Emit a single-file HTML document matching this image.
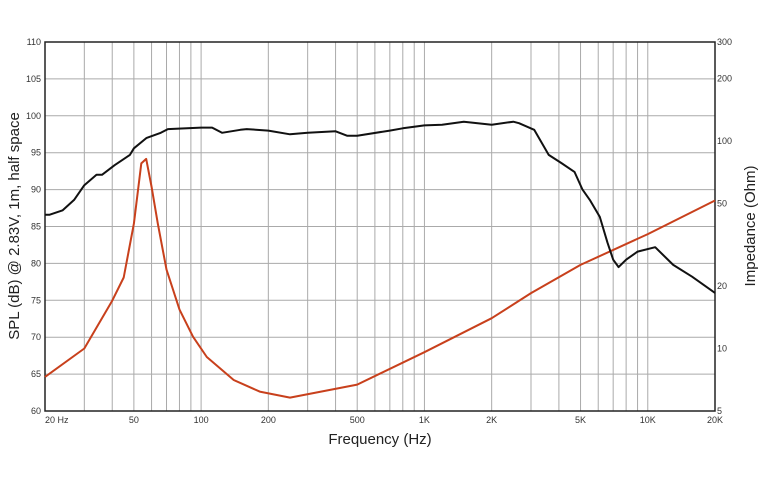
<!DOCTYPE html>
<html><head><meta charset="utf-8"><style>
html,body{margin:0;padding:0;background:#fff;width:767px;height:484px;overflow:hidden}
svg text{font-family:"Liberation Sans",sans-serif}
</style></head><body>
<svg id="chart" width="767" height="484" viewBox="0 0 767 484" xmlns="http://www.w3.org/2000/svg">
<g id="grid"></g>
<g id="axes"></g>
<g id="series"></g>
<text x="380" y="444" font-size="15" text-anchor="middle" fill="#222">Frequency (Hz)</text>
<text transform="translate(19,226) rotate(-90)" font-size="15" text-anchor="middle" fill="#222">SPL (dB) @ 2.83V, 1m, half space</text>
<text transform="translate(755,226) rotate(-90)" font-size="15" text-anchor="middle" fill="#222">Impedance (Ohm)</text>
</svg>
<script>
const splFreq=[20,21,24,27,30,34,36,41,48,50,57,66,71,100,112,124,150,160,200,250,300,400,450,500,700,800,1000,1200,1500,2000,2500,2650,3100,3600,4100,4700,5100,5500,6100,6600,7000,7400,8000,9000,10800,13000,15800,20000];
const splDb=[86.6,86.6,87.2,88.6,90.6,92,92,93.3,94.7,95.6,97,97.7,98.2,98.4,98.4,97.7,98.1,98.2,98,97.5,97.7,97.9,97.3,97.3,98,98.3,98.7,98.8,99.2,98.8,99.2,99,98.1,94.7,93.6,92.4,90,88.6,86.3,82.8,80.5,79.5,80.5,81.6,82.2,79.8,78.2,76];
const impFreq=[20,30,40,45,50,54,56.8,60,64,70,80,92,106,140,183,250,500,1000,2000,3000,5000,10000,20000];
const impOhm=[7.3,10,17,22,40,78,82,60,40,24,15.4,11.4,9.1,7.05,6.2,5.8,6.7,9.6,14,18.5,25.3,35.6,51.7];
const splTicks=[60,65,70,75,80,85,90,95,100,105,110];
const impTicks=[5,10,20,50,100,200,300];
const freqTickVals=[20,50,100,200,500,1000,2000,5000,10000,20000];
const freqTickLabels=["20  Hz","50","100","200","500","1K","2K","5K","10K","20K"];
const L=45,R=715,T=42,B=411;
const NS="http://www.w3.org/2000/svg";
function xS(f){return L+(R-L)*Math.log10(f/20)/3;}
function yS(d){return B-(B-T)*(d-60)/50;}
function yI(o){return B-(B-T)*Math.log10(o/5)/Math.log10(60);}
function mk(tag,attrs,parent){const e=document.createElementNS(NS,tag);for(const k in attrs)e.setAttribute(k,attrs[k]);parent.appendChild(e);return e;}
const grid=document.getElementById('grid'),axes=document.getElementById('axes'),series=document.getElementById('series');
for(let dec=20;dec<20000;dec*=10){for(let m=1;m<10;m++){const f=dec*m/2*2; }}
const gridFreqs=[];
[10,100,1000,10000].forEach(d=>{for(let m=1;m<10;m++){const f=d*m;if(f>20&&f<20000)gridFreqs.push(f);}});
gridFreqs.forEach(f=>{const x=xS(f);
const l=mk('line',{x1:x,x2:x,y1:T,y2:B,stroke:'#aaa','stroke-width':1},grid);

});
splTicks.forEach(v=>{const y=yS(v);
if(v>60&&v<110){const l=mk('line',{x1:L,x2:R,y1:y,y2:y,stroke:'#aaa','stroke-width':1},grid);

}
const t=mk('text',{x:L-4,y:y+3,'font-size':9,'text-anchor':'end',fill:'#333'},axes);t.textContent=v;

});
impTicks.forEach(v=>{const y=yI(v);
const t=mk('text',{x:R+2,y:y+3,'font-size':9,fill:'#333'},axes);t.textContent=v;

});
freqTickVals.forEach((f,i)=>{const x=xS(f);
const t=mk('text',{x:i==0?x:x,y:423,'font-size':9,'text-anchor':i==0?'start':(i==freqTickVals.length-1?'middle':'middle'),fill:'#333'},axes);
t.textContent=freqTickLabels[i];

});
const fr=mk('rect',{x:L,y:T,width:R-L,height:B-T,fill:'none',stroke:'#222','stroke-width':1.5},axes);


const imp=mk('polyline',{points:impFreq.map((f,i)=>xS(f).toFixed(1)+','+yI(impOhm[i]).toFixed(1)).join(' '),fill:'none',stroke:'#c8401c','stroke-width':2,'stroke-linejoin':'round'},series);


const spl=mk('polyline',{points:splFreq.map((f,i)=>xS(f).toFixed(1)+','+yS(splDb[i]).toFixed(1)).join(' '),fill:'none',stroke:'#111','stroke-width':2,'stroke-linejoin':'round'},series);


</script>
</body></html>
